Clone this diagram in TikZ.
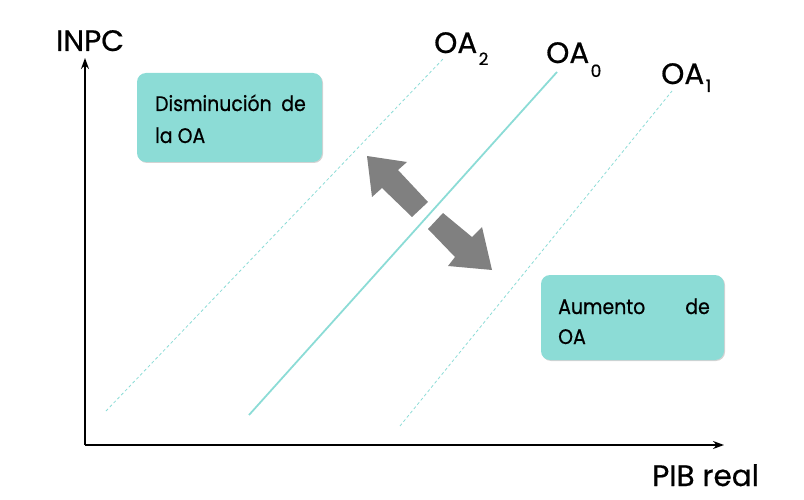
\documentclass[tikz,border=0pt]{standalone}
\usepackage{fontspec}
\setmainfont{Poppins}[FakeBold=0.6]
\newfontfamily\boxfont{Poppins}[FakeStretch=0.9,FakeBold=0.6]
\usetikzlibrary{arrows.meta,shadows}
\definecolor{teal}{HTML}{8CDCD6}
\definecolor{arrgray}{HTML}{808080}
\tikzset{
  axis/.style={draw=black, line width=1.4pt, -{Stealth[length=11pt,width=8pt]}},
  oasolid/.style={draw=teal, line width=1.8pt},
  oadash/.style={draw=teal, line width=0.8pt, dash pattern=on 3pt off 2.5pt},
  lbl/.style={anchor=base west, inner sep=0pt, font=\fontsize{29.5}{32}\selectfont},
  sub/.style={anchor=base west, inner sep=0pt, font=\fontsize{17}{18}\selectfont},
  box/.style={fill=teal, rounded corners=9pt, drop shadow={shadow xshift=1pt, shadow yshift=-1pt, opacity=0.35}},
  boxtxt/.style={anchor=base west, inner sep=0pt, font=\boxfont\fontsize{21}{22}\selectfont},
  fat/.style={fill=arrgray, draw=none}
}
\begin{document}
\begin{tikzpicture}[x=1pt,y=-1pt]
\useasboundingbox (0,0) rectangle (804,500);
% axes
\coordinate (O) at (85,445);
\coordinate (Ytop) at (85,58);
\coordinate (Xend) at (724,445);
\draw[axis] (O) -- (Ytop);
\draw[axis] (O) -- (Xend);
\node[lbl] (inpc) at (56,51) {INPC};
\node[lbl] (pib) at (652,486) {PIB real};
% OA curves
\coordinate (a2s) at (106,411);
\coordinate (a2e) at (443,59);
\coordinate (a0s) at (249,415);
\coordinate (a0e) at (557,72);
\coordinate (a1s) at (400,426);
\coordinate (a1e) at (672,91);
\draw[oadash] (a2s) -- (a2e);
\draw[oasolid] (a0s) -- (a0e);
\draw[oadash] (a1s) -- (a1e);
\node[lbl] (oa2) at (434,53) {OA};
\node[sub] (oa2s) at ([xshift=1pt,yshift=-12pt]oa2.base east) {2};
\node[lbl] (oa0) at (546,63) {OA};
\node[sub] (oa0s) at ([xshift=1pt,yshift=-14pt]oa0.base east) {0};
\node[lbl] (oa1) at (661,84) {OA};
\node[sub] (oa1s) at ([xshift=1pt,yshift=-8pt]oa1.base east) {1};
% boxes
\path[box] (137,73) rectangle (322,162);
\node[boxtxt] (d1) at (155,111) {Disminución};
\node[boxtxt, anchor=base east] (d2) at (306,111) {de};
\node[boxtxt] (d3) at (155,143) {la OA};
\path[box] (541,275) rectangle (724,360);
\node[boxtxt] (a1) at (558,314) {Aumento};
\node[boxtxt, anchor=base east] (a2) at (710,314) {de};
\node[boxtxt] (a3) at (558,344) {OA};
% fat arrows
\fill[fat] (367,156) -- (407,162) -- (398,170) -- (428,202) -- (412,217) -- (382,188) -- (372,197) -- cycle;
\fill[fat] (492,270) -- (448,266) -- (455,257) -- (428,229) -- (443,213) -- (472,237) -- (482,227) -- cycle;
\end{tikzpicture}
\end{document}
